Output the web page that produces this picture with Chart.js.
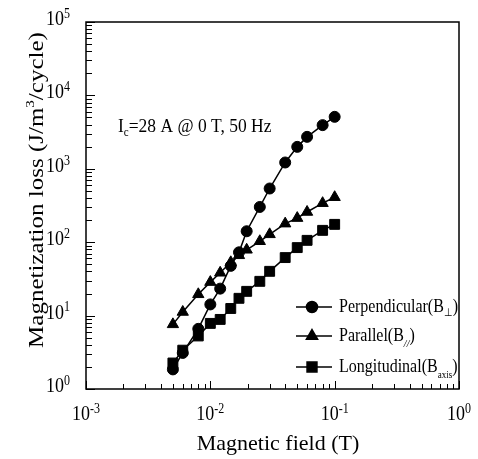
<!DOCTYPE html>
<html>
<head>
<meta charset="utf-8">
<script src="https://cdn.jsdelivr.net/npm/chart.js@4.4.1/dist/chart.umd.min.js"></script>
<style>
html, body { margin: 0; padding: 0; background: #fff; }
</style>
</head>
<body>
<canvas id="_loss_chart" width="478" height="459"></canvas>
<script>
// values
const field_T   = [0.005, 0.006, 0.008, 0.01, 0.012, 0.0146, 0.017, 0.0196, 0.025, 0.03, 0.04, 0.05, 0.06, 0.08, 0.1];
const loss_perp = [1.85, 3.1, 6.6, 14.2, 23.3, 47.6, 72.8, 141, 302, 539, 1219, 1990, 2724, 3935, 5105];
const loss_par  = [7.6, 11.2, 19.5, 28.6, 38.3, 53.2, 66.3, 78.8, 103, 128, 179, 213, 258, 340, 410];
const loss_long = [2.26, 3.38, 5.28, 7.83, 8.87, 12.5, 17.2, 21.4, 29.3, 40.1, 61.7, 84.4, 106, 145, 175];
const x_exp = [-3, -2, -1, 0];
const y_exp = [0, 1, 2, 3, 4, 5];

const serif = '"Liberation Serif", "Times New Roman", serif';

function toPoints(xs, ys) {
    let pts = [];
    for (var i in xs) {
        pts.push({x: xs[i], y: ys[i]});
    }
    return pts;
}

// text made of pieces (for super/subscripts), sy = vertical stretch
function richText(ctx, parts, x, y, align, sy) {
    sy = sy || 1;
    let w = 0;
    parts.forEach(p => {
        ctx.font = p.font;
        p.w = ctx.measureText(p.t).width;
        w += p.w;
    });
    let cx = 0;
    if (align == 'center') cx = -w / 2;
    if (align == 'right') cx = -w;
    ctx.save();
    ctx.translate(x, y);
    ctx.scale(1, sy);
    ctx.textAlign = 'left';
    ctx.textBaseline = 'alphabetic';
    parts.forEach(p => {
        ctx.font = p.font;
        ctx.fillText(p.t, cx, (p.dy || 0));
        cx += p.w;
    });
    ctx.restore();
}

const markers = [
    {label: 'perp', style: 'circle', radius: 5.5},
    {label: 'par', style: 'triangle', radius: 6.5},
    {label: 'long', style: 'rect', radius: 7}
];

const framePlugin = {
    id: 'frame',
    afterDraw(chart) {
        const ctx = chart.ctx;
        const area = chart.chartArea;
        const xs = chart.scales.x;
        const ys = chart.scales.y;
        ctx.save();
        ctx.strokeStyle = '#000';
        ctx.fillStyle = '#000';
        ctx.lineWidth = 1.5;
        ctx.strokeRect(area.left, area.top, area.right - area.left, area.bottom - area.top);

        // ticks, inward
        ctx.lineWidth = 1;
        ctx.beginPath();
        x_exp.forEach(e => {
            for (let k = 1; k <= 9; k++) {
                if (e == 0 && k > 1) break;
                const px = Math.round(xs.getPixelForValue(k * Math.pow(10, e))) + 0.5;
                const len = k == 1 ? 8 : 5;
                ctx.moveTo(px, area.bottom);
                ctx.lineTo(px, area.bottom - len);
            }
        });
        y_exp.forEach(e => {
            for (let k = 1; k <= 9; k++) {
                if (e == 5 && k > 1) break;
                const py = Math.round(ys.getPixelForValue(k * Math.pow(10, e))) + 0.5;
                const len = k == 1 ? 9 : 6;
                ctx.moveTo(area.left, py);
                ctx.lineTo(area.left + len, py);
            }
        });
        ctx.stroke();

        // tick labels
        const big = '18px ' + serif;
        const sup = '12px ' + serif;
        x_exp.forEach(e => {
            const px = xs.getPixelForValue(Math.pow(10, e));
            richText(ctx, [{t: '10', font: big}, {t: String(e), font: sup, dy: -6}], px, 420, 'center', 1.2);
        });
        y_exp.forEach(e => {
            const py = ys.getPixelForValue(Math.pow(10, e));
            richText(ctx, [{t: '10', font: big}, {t: String(e), font: sup, dy: -6}], 70, py + 3, 'right', 1.2);
        });

        // axis titles
        richText(ctx, [{t: 'Magnetic field (T)', font: '22px ' + serif}], 278, 450, 'center');
        ctx.save();
        ctx.translate(43, 190);
        ctx.rotate(-Math.PI / 2);
        richText(ctx, [
            {t: 'Magnetization loss (J/m', font: '25px ' + serif},
            {t: '3', font: '15px ' + serif, dy: -10},
            {t: '/cycle)', font: '25px ' + serif}
        ], 0, 0, 'center', 0.88);
        ctx.restore();

        // note
        richText(ctx, [
            {t: 'I', font: '17.5px ' + serif},
            {t: 'c', font: '11px ' + serif, dy: 4},
            {t: '=28 A @ 0 T, 50 Hz', font: '17.5px ' + serif}
        ], 118, 132, 'left', 1.12);

        // legend
        const rows = [
            [{t: 'Perpendicular(B', font: '16px ' + serif}, {t: '\u22A5', font: '10px ' + serif, dy: 4}, {t: ')', font: '16px ' + serif}],
            [{t: 'Parallel(B', font: '16px ' + serif}, {t: '//', font: 'italic 10px ' + serif, dy: 5}, {t: ')', font: '16px ' + serif}],
            [{t: 'Longitudinal(B', font: '16px ' + serif}, {t: 'axis', font: '9px ' + serif, dy: 5}, {t: ')', font: '16px ' + serif}]
        ];
        const row_y = [307, 336, 367];
        rows.forEach((parts, i) => {
            const y = row_y[i];
            ctx.lineWidth = 1.5;
            ctx.beginPath();
            ctx.moveTo(296, y);
            ctx.lineTo(332, y);
            ctx.stroke();
            Chart.helpers.drawPoint(ctx, {pointStyle: markers[i].style, radius: markers[i].radius, rotation: 0, borderWidth: 1}, 312, y);
            richText(ctx, parts, 339, y + 5, 'left', 1.12);
        });
        ctx.restore();
    }
};

function makeSet(label, ys, m) {
    return {
        label: label,
        data: toPoints(field_T, ys),
        showLine: true,
        borderColor: '#000',
        backgroundColor: '#000',
        borderWidth: 1.5,
        pointStyle: m.style,
        pointRadius: m.radius,
        pointBorderWidth: 1,
        tension: 0
    };
}

const ctx = document.getElementById('_loss_chart');
const loss_chart = new Chart(ctx, {
    type: 'scatter',
    data: {
        datasets: [
            makeSet('Perpendicular', loss_perp, markers[0]),
            makeSet('Parallel', loss_par, markers[1]),
            makeSet('Longitudinal', loss_long, markers[2])
        ]
    },
    options: {
        responsive: false,
        animation: false,
        layout: {
            padding: {left: 86, top: 22, right: 19, bottom: 70}
        },
        scales: {
            x: {type: 'logarithmic', min: 0.001, max: 1, display: false},
            y: {type: 'logarithmic', min: 1, max: 100000, display: false}
        },
        plugins: {
            legend: {display: false},
            tooltip: {enabled: false}
        }
    },
    plugins: [framePlugin]
});
</script>
</body>
</html>
